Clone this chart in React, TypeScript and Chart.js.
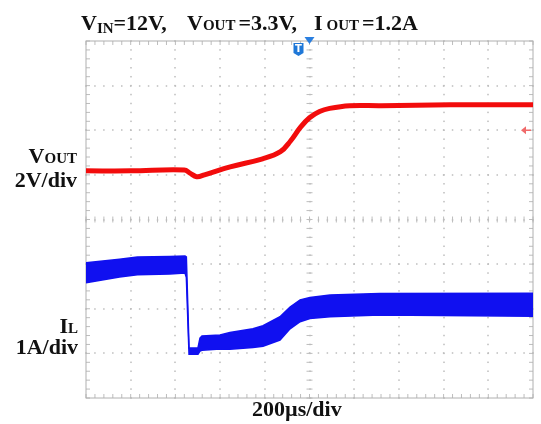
import React, { useEffect, useRef } from 'react';
import { Chart, registerables } from 'chart.js';

Chart.register(...registerables);

// Time axis in µs (200 µs/div, 10 divisions, trigger at 0)
const timeMin = -1000;
const timeMax = 1000;
const timeStep = 200;
// Vertical axis in screen divisions (8 divisions, centre = 0)
const divMin = -4;
const divMax = 4;

// VOUT trace (2 V/div), position in divisions from screen centre
const voutTime = [-1000, -800, -560, -535, -505, -470, -355, -210, -130, -85, -40, 0, 45, 90, 180, 320, 630, 1000];
const voutDiv = [1.09, 1.09, 1.11, 1.04, 0.96, 1.0, 1.18, 1.36, 1.52, 1.76, 2.07, 2.28, 2.42, 2.49, 2.55, 2.55, 2.57, 2.57];

// IL trace (1 A/div): ripple envelope, upper and lower edge in divisions
const ilTime = [-1000, -850, -770, -625, -557, -551, -539, -499, -490, -481, -400, -356, -253, -208, -132, -87, -42, 2, 92, 315, 1000];
const ilTopDiv = [-0.97, -0.89, -0.84, -0.83, -0.82, -0.84, -2.88, -2.88, -2.66, -2.61, -2.59, -2.53, -2.45, -2.38, -2.18, -1.96, -1.8, -1.75, -1.69, -1.66, -1.65];
const ilBottomDiv = [-1.42, -1.29, -1.24, -1.22, -1.2, -1.3, -3.02, -3.02, -2.95, -2.93, -2.9, -2.91, -2.87, -2.84, -2.7, -2.45, -2.29, -2.22, -2.18, -2.14, -2.17];

// Channel 1 reference arrow level (divisions)
const ch1MarkerDiv = 2.0;

const RED = '#f20c0c';
const BLUE = '#1010f0';
const GRID = '#bdbdbd';

const scopeGrid = {
  id: 'scopeGrid',
  beforeDatasetsDraw(chart: any) {
    const { ctx, chartArea, scales } = chart;
    const { left, right, top, bottom } = chartArea;
    const xs = scales.x;
    const ys = scales.y;
    ctx.save();
    const minorX: number[] = [];
    for (let v = timeMin; v <= timeMax + 1e-6; v += timeStep / 5) minorX.push(xs.getPixelForValue(v));
    const minorY: number[] = [];
    for (let v = divMin; v <= divMax + 1e-6; v += 0.2) minorY.push(ys.getPixelForValue(v));
    const majorX: number[] = [];
    for (let v = timeMin + timeStep; v < timeMax; v += timeStep) majorX.push(xs.getPixelForValue(v));
    const majorY: number[] = [];
    for (let v = divMin + 1; v < divMax; v += 1) majorY.push(ys.getPixelForValue(v));
    const cx = xs.getPixelForValue(0);
    const cy = ys.getPixelForValue(0);

    ctx.fillStyle = GRID;
    majorX.forEach((px) => {
      minorY.forEach((py) => ctx.fillRect(Math.round(px) - 0.75, py - 0.75, 1.5, 1.5));
    });
    majorY.forEach((py) => {
      minorX.forEach((px) => ctx.fillRect(px - 0.75, Math.round(py) - 0.75, 1.5, 1.5));
    });

    ctx.strokeStyle = GRID;
    ctx.lineWidth = 1;
    ctx.beginPath();
    minorY.forEach((py) => {
      ctx.moveTo(cx - 3, py);
      ctx.lineTo(cx + 3, py);
    });
    minorX.forEach((px) => {
      ctx.moveTo(px, cy - 3);
      ctx.lineTo(px, cy + 3);
    });
    minorX.forEach((px) => {
      ctx.moveTo(px, top);
      ctx.lineTo(px, top + 4);
      ctx.moveTo(px, bottom);
      ctx.lineTo(px, bottom - 4);
    });
    minorY.forEach((py) => {
      ctx.moveTo(left, py);
      ctx.lineTo(left + 4, py);
      ctx.moveTo(right, py);
      ctx.lineTo(right - 4, py);
    });
    ctx.stroke();

    ctx.strokeStyle = '#b0b0b0';
    ctx.strokeRect(left, top, right - left, bottom - top);
    ctx.restore();
  },
  afterDatasetsDraw(chart: any) {
    const { ctx, chartArea, scales } = chart;
    const { top, right } = chartArea;
    const cx = scales.x.getPixelForValue(0);
    ctx.save();
    ctx.fillStyle = '#2a7fe0';
    ctx.beginPath();
    ctx.moveTo(cx - 5, top - 4);
    ctx.lineTo(cx + 5, top - 4);
    ctx.lineTo(cx, top + 3);
    ctx.closePath();
    ctx.fill();
    const bx = cx - 11;
    const by = top + 2;
    ctx.fillStyle = '#1f78d8';
    ctx.beginPath();
    ctx.moveTo(bx - 5, by);
    ctx.lineTo(bx + 5, by);
    ctx.lineTo(bx + 5, by + 10);
    ctx.lineTo(bx, by + 13);
    ctx.lineTo(bx - 5, by + 10);
    ctx.closePath();
    ctx.fill();
    ctx.fillStyle = '#ffffff';
    ctx.font = 'bold 10px "DejaVu Sans", sans-serif';
    ctx.textAlign = 'center';
    ctx.textBaseline = 'middle';
    ctx.fillText('T', bx, by + 6);
    const ay = scales.y.getPixelForValue(ch1MarkerDiv);
    ctx.strokeStyle = '#f06a6a';
    ctx.fillStyle = '#f06a6a';
    ctx.lineWidth = 1.5;
    ctx.beginPath();
    ctx.moveTo(right - 10, ay);
    ctx.lineTo(right - 2, ay);
    ctx.stroke();
    ctx.beginPath();
    ctx.moveTo(right - 12, ay);
    ctx.lineTo(right - 7, ay - 4);
    ctx.lineTo(right - 7, ay + 4);
    ctx.closePath();
    ctx.fill();
    ctx.restore();
  },
};

const sub: React.CSSProperties = { fontSize: 15 };

function Label(props: { left?: number; right?: number; baseline: number; children: React.ReactNode }) {
  const style: React.CSSProperties = {
    position: 'absolute',
    top: props.baseline - 18.4,
    lineHeight: '22px',
    fontSize: 22,
    whiteSpace: 'nowrap',
  };
  if (props.left !== undefined) style.left = props.left;
  if (props.right !== undefined) {
    style.right = props.right;
    style.textAlign = 'right';
  }
  return <div style={style}>{props.children}</div>;
}

export default function App() {
  const canvasRef = useRef<HTMLCanvasElement | null>(null);

  useEffect(() => {
    document.body.style.margin = '0';
    const canvas = canvasRef.current;
    if (!canvas) return;
    const toPoints = (xs: number[], ys: number[]) => xs.map((x, i) => ({ x, y: ys[i] }));
    const chart = new Chart(canvas, {
      type: 'line',
      data: {
        datasets: [
          {
            label: 'IL upper',
            data: toPoints(ilTime, ilTopDiv),
            borderColor: BLUE,
            backgroundColor: BLUE,
            borderWidth: 1.5,
            pointRadius: 0,
            tension: 0,
            fill: '+1',
          },
          {
            label: 'IL lower',
            data: toPoints(ilTime, ilBottomDiv),
            borderColor: BLUE,
            borderWidth: 1.5,
            pointRadius: 0,
            tension: 0,
            fill: false,
          },
          {
            label: 'VOUT',
            data: toPoints(voutTime, voutDiv),
            borderColor: RED,
            borderWidth: 5,
            pointRadius: 0,
            tension: 0.4,
            fill: false,
          },
        ],
      },
      options: {
        animation: false,
        responsive: false,
        maintainAspectRatio: false,
        layout: { padding: { left: 86, right: 8, top: 41, bottom: 26 } },
        scales: {
          x: { type: 'linear', min: timeMin, max: timeMax, display: false },
          y: { type: 'linear', min: divMin, max: divMax, display: false },
        },
        plugins: { legend: { display: false }, tooltip: { enabled: false } },
        events: [],
      } as any,
      plugins: [scopeGrid],
    });
    return () => chart.destroy();
  }, []);

  return (
    <div
      style={{
        position: 'relative',
        width: 541,
        height: 424,
        overflow: 'hidden',
        background: '#ffffff',
        fontFamily: '"Liberation Serif", "Times New Roman", serif',
        fontWeight: 'bold',
        color: '#111111',
      }}
    >
      <canvas ref={canvasRef} width={541} height={424} style={{ position: 'absolute', left: 0, top: 0 }} />
      <Label left={81} baseline={30.5}>
        V<span style={{ ...sub, verticalAlign: -3 }}>IN</span>=12V,
      </Label>
      <Label left={187} baseline={30.5}>
        V<span style={{ ...sub, marginRight: 3 }}>OUT</span>=3.3V,
      </Label>
      <Label left={314} baseline={30.5}>
        I<span style={{ ...sub, marginLeft: 4, marginRight: 3 }}>OUT</span>=1.2A
      </Label>
      <Label right={464} baseline={163}>
        V<span style={sub}>OUT</span>
      </Label>
      <Label right={464} baseline={187}>
        2V/div
      </Label>
      <Label right={463} baseline={333}>
        I<span style={sub}>L</span>
      </Label>
      <Label right={463} baseline={354}>
        1A/div
      </Label>
      <Label left={252} baseline={416}>
        200µs/div
      </Label>
    </div>
  );
}
